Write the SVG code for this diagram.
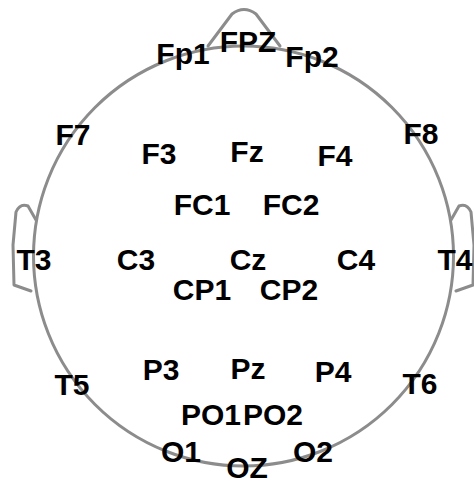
<svg xmlns="http://www.w3.org/2000/svg" width="474" height="484" viewBox="0 0 474 484">
  <style>
    .outline { fill: none; stroke: #8c8c8c; stroke-width: 3; stroke-linejoin: round; stroke-linecap: round; }
    .lbl { font-family: "Liberation Sans", Arial, sans-serif; font-weight: bold; font-size: 30px; fill: #000; text-anchor: middle; }
  </style>
  <rect width="474" height="484" fill="#fff"/>
  <!-- head outline: scalp, nose, ears -->
  <g id="head">
    <circle class="outline" cx="243.5" cy="256" r="210"/>
    <path class="outline" d="M208,46 L232,14 Q244,5 256,14 L280,46"/>
    <path class="outline" d="M36,220 L28,206 Q20,203 16,212 L13,245 L14,285 L31,291"/>
    <path class="outline" d="M451,220 L459,206 Q467,203 471,212 L474,245 L473,285 L456,291"/>
  </g>
  <g id="connectors"/>
  <!-- electrode labels -->
  <g id="Fp1"><text class="lbl" x="183" y="64">Fp1</text></g>
  <g id="FPZ"><text class="lbl" x="248" y="52">FPZ</text></g>
  <g id="Fp2"><text class="lbl" x="312" y="67">Fp2</text></g>
  <g id="F7"><text class="lbl" x="73" y="145">F7</text></g>
  <g id="F3"><text class="lbl" x="159" y="164">F3</text></g>
  <g id="Fz"><text class="lbl" x="247" y="162">Fz</text></g>
  <g id="F4"><text class="lbl" x="335" y="166">F4</text></g>
  <g id="F8"><text class="lbl" x="421" y="144">F8</text></g>
  <g id="FC1"><text class="lbl" x="202" y="215">FC1</text></g>
  <g id="FC2"><text class="lbl" x="291" y="215">FC2</text></g>
  <g id="T3"><text class="lbl" x="34" y="270">T3</text></g>
  <g id="C3"><text class="lbl" x="136" y="270">C3</text></g>
  <g id="Cz"><text class="lbl" x="248" y="270">Cz</text></g>
  <g id="C4"><text class="lbl" x="356" y="270">C4</text></g>
  <g id="T4"><text class="lbl" x="455" y="270">T4</text></g>
  <g id="CP1"><text class="lbl" x="202" y="300">CP1</text></g>
  <g id="CP2"><text class="lbl" x="289" y="300">CP2</text></g>
  <g id="T5"><text class="lbl" x="72" y="395">T5</text></g>
  <g id="P3"><text class="lbl" x="161" y="380">P3</text></g>
  <g id="Pz"><text class="lbl" x="248" y="379">Pz</text></g>
  <g id="P4"><text class="lbl" x="333" y="382">P4</text></g>
  <g id="T6"><text class="lbl" x="420" y="394">T6</text></g>
  <g id="PO1"><text class="lbl" x="211" y="425">PO1</text></g>
  <g id="PO2"><text class="lbl" x="273" y="425">PO2</text></g>
  <g id="O1"><text class="lbl" x="181" y="462">O1</text></g>
  <g id="OZ"><text class="lbl" x="247" y="478">OZ</text></g>
  <g id="O2"><text class="lbl" x="313" y="462">O2</text></g>
</svg>
